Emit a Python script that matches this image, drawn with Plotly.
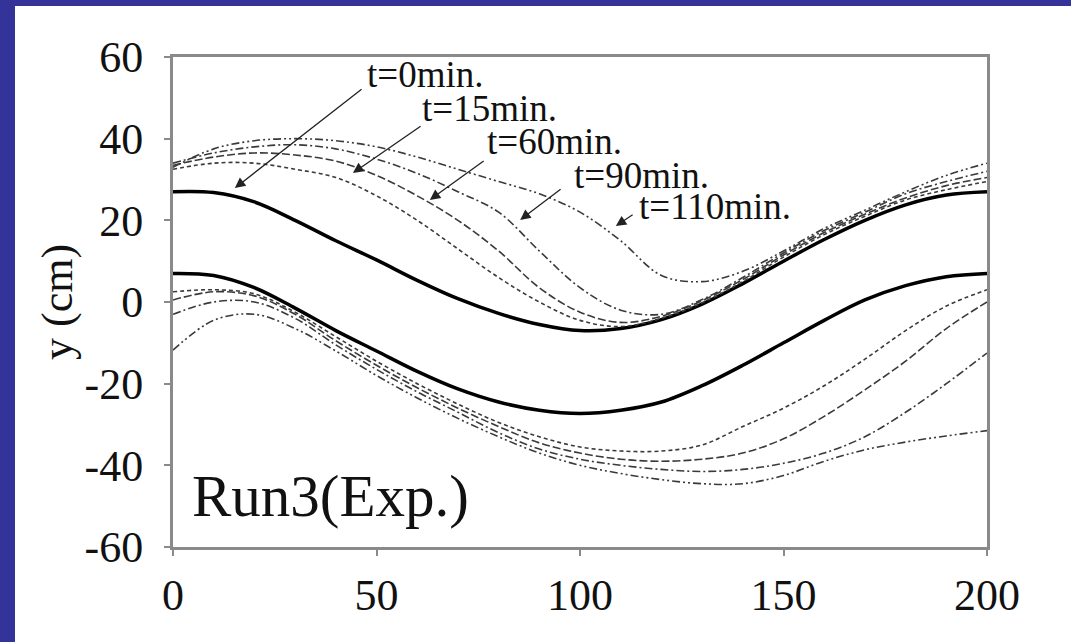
import plotly.graph_objects as go

# ---------------- data ----------------
x_pos = [0, 10, 20, 30, 40, 50, 60, 70, 80, 90, 100, 110, 120, 130, 140, 150, 160, 170, 180, 190, 200]

t0_upper = [27, 26.8, 24.5, 20, 15, 10.3, 5.3, 0.8, -2.8, -5.5, -7, -6.5, -4.3, -0.5, 4.5, 10, 15.3, 20, 23.8, 26.2, 27]
t0_lower = [7, 6.5, 3.5, -1.5, -7, -12, -17, -21.3, -24.5, -26.5, -27.3, -26.5, -24.5, -20.5, -15.5, -10, -4.5, 0.5, 4, 6.2, 7]

t15_upper = [32.5, 34, 34, 32.5, 30.5, 26, 20, 13, 6, 0, -4.5, -6, -4, -0.2, 5, 11, 16.5, 21, 25, 27.5, 29.5]
t15_lower = [2.5, 3, 2, -2.5, -8.5, -14.5, -20, -25, -29.5, -33, -35.5, -36.5, -36.5, -35, -30.5, -26, -20.5, -14, -7, -1, 3]

t60_upper = [33.5, 35.5, 36.5, 36, 34.5, 31, 26, 20, 12.5, 3.5, -2.5, -5, -3.5, 0.3, 5.5, 11.5, 17, 21.5, 25.5, 28.5, 30.5]
t60_lower = [0.5, 2.5, 1.5, -3, -9.5, -15.5, -21, -26, -30.5, -34.5, -37, -38.5, -39, -38.5, -37, -33.5, -28, -21.5, -14.5, -6.5, 0]

t90_upper = [34, 36.5, 38, 38.5, 37.5, 35, 31.5, 27, 22, 12.5, 3.5, -2, -3, 0.6, 6, 12, 17.5, 22, 26.5, 29.5, 32]
t90_lower = [-3, 0, 0, -4, -10.5, -16.5, -22, -27, -32, -36, -38.5, -40, -41, -41.5, -41, -39.5, -37, -33, -27, -20, -12.5]

t110_upper = [33, 37.5, 39.5, 40, 39.5, 38, 35.5, 32.5, 29.5, 26.5, 22, 15, 6.5, 5, 7.5, 12.5, 18, 22.5, 27, 31, 34]
t110_lower = [-11.8, -4.5, -3, -6.5, -12, -18, -23.5, -28.5, -33, -37, -40, -42, -43.5, -44.5, -44.5, -42.5, -39, -36.2, -34.3, -32.8, -31.5]

series_names = ["t=0min.", "t=15min.", "t=60min.", "t=90min.", "t=110min."]
series_upper = [t0_upper, t15_upper, t60_upper, t90_upper, t110_upper]
series_lower = [t0_lower, t15_lower, t60_lower, t90_lower, t110_lower]

# label annotation: arrow head (data), arrow tail (data), text anchor (data, left/middle)
arrow_head_x = [15.2, 44.2, 63.1, 85.3, 108.8]
arrow_head_y = [27.9, 31.6, 25.0, 20.1, 18.6]
arrow_tail_x = [46.7, 61.2, 76.7, 95.6, 113.3]
arrow_tail_y = [52.4, 43.3, 34.8, 27.9, 21.6]
label_x = [47.2, 60.7, 76.7, 98.0, 114.0]
label_y = [55.8, 47.5, 39.2, 31.1, 23.3]

x_ticks = [0, 50, 100, 150, 200]
y_ticks = [-60, -40, -20, 0, 20, 40, 60]
y_ticktext = ["-60", "-40", "-20", "0", "20", "40", "60"]

# ---------------- styles ----------------
styles = [
    dict(color="black", width=3.5, dash="solid"),
    dict(color="#3a3a3a", width=1.6, dash="4px,3px"),
    dict(color="#3a3a3a", width=1.6, dash="8px,3px"),
    dict(color="#3a3a3a", width=1.6, dash="8px,3px,2px,3px"),
    dict(color="#3a3a3a", width=1.6, dash="8px,3px,2px,3px,2px,3px"),
]

FONT = "Liberation Serif"
BLUE = "#333399"

fig = go.Figure()
for name, up, lo, st in zip(series_names, series_upper, series_lower, styles):
    for ys in (up, lo):
        fig.add_trace(go.Scatter(x=x_pos, y=ys, mode="lines", name=name,
                                 line=dict(shape="spline", smoothing=1.0, **st),
                                 showlegend=False, hoverinfo="skip"))

annotations = []
for name, hx, hy, tx, ty, lx, ly in zip(series_names, arrow_head_x, arrow_head_y,
                                         arrow_tail_x, arrow_tail_y, label_x, label_y):
    annotations.append(dict(x=hx, y=hy, ax=tx, ay=ty, xref="x", yref="y", axref="x", ayref="y",
                            text="", showarrow=True, arrowhead=2, arrowsize=1.6, arrowwidth=1.3,
                            arrowcolor="#222"))
    annotations.append(dict(x=lx, y=ly, xref="x", yref="y", text=name, showarrow=False,
                            xanchor="left", yanchor="middle",
                            font=dict(family=FONT, size=37, color="#111")))

L, R, T, B = 173, 84, 57, 95
W, H = 1071, 642
pw, ph = W - L - R, H - T - B


def px_x(p):
    return (p - L) / pw


def px_y(p):
    return (H - B - p) / ph


annotations.append(dict(x=px_x(57), y=0.5, xref="paper", yref="paper", text="y (cm)",
                        textangle=-90, showarrow=False, xanchor="center", yanchor="middle",
                        font=dict(family=FONT, size=44, color="#111")))
annotations.append(dict(x=px_x(190), y=px_y(496), xref="paper", yref="paper",
                        text="Run3(Exp.)", showarrow=False, xanchor="left", yanchor="middle",
                        font=dict(family=FONT, size=59, color="#111")))

# blue frame strips: left and top, thin blue lines drawn as open paths
blue_left = dict(type="line", xref="paper", yref="paper",
                 x0=px_x(7.5), x1=px_x(7.5), y0=px_y(H), y1=px_y(0),
                 line=dict(color=BLUE, width=15))
blue_top = dict(type="line", xref="paper", yref="paper",
                x0=px_x(0), x1=px_x(W), y0=px_y(3), y1=px_y(3),
                line=dict(color=BLUE, width=6))

axis_common = dict(showline=True, mirror=True, linecolor="#8a8a8a", linewidth=3,
                   showgrid=False, zeroline=False, ticks="outside", ticklen=6,
                   tickcolor="#8a8a8a", tickwidth=2,
                   tickfont=dict(family=FONT, size=44, color="#111"))

fig.update_layout(
    width=W, height=H,
    margin=dict(l=L, r=R, t=T, b=B),
    paper_bgcolor="white", plot_bgcolor="white",
    shapes=[blue_left, blue_top],
    annotations=annotations,
    xaxis=dict(range=[0, 200], tickvals=x_ticks, ticklabelstandoff=1, **axis_common),
    yaxis=dict(range=[-60, 60], tickvals=y_ticks, ticktext=y_ticktext,
               ticklabelstandoff=12, **axis_common),
)

fig.write_html("out.html")
